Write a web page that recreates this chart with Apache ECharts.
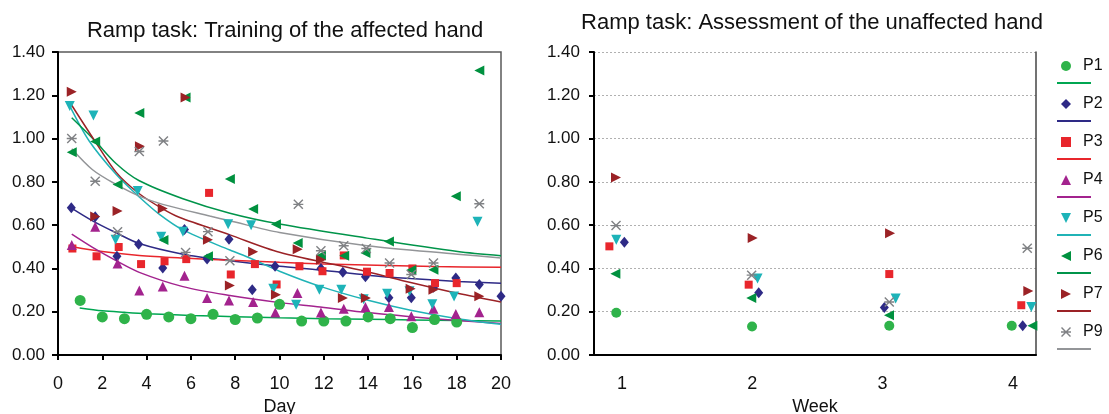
<!DOCTYPE html>
<html><head><meta charset="utf-8">
<script src="https://cdn.jsdelivr.net/npm/echarts@6/dist/echarts.min.js"></script>
<style>html,body{margin:0;padding:0;background:#fff}#c{width:1109px;height:414px}</style>
</head><body><div id="c"></div>
<script>
// ---------- data ----------
const names = ['P1','P2','P3','P4','P5','P6','P7','P9'];
const weekTicks = [1,2,3,4];

// Training (left chart): [day, value]
const trainP1 = [[1,0.252],[2,0.176],[3,0.168],[4,0.188],[5,0.176],[6,0.168],[7,0.188],[8,0.164],[9,0.171],[10,0.234],[11,0.157],[12,0.157],[13,0.157],[14,0.176],[15,0.168],[16,0.127],[17,0.164],[18,0.152]];
const trainP2 = [[0.6,0.68],[1.68,0.639],[2.66,0.456],[3.64,0.512],[4.73,0.402],[5.71,0.58],[6.73,0.443],[7.72,0.535],[8.77,0.301],[9.8,0.41],[11.87,0.40],[12.86,0.382],[13.88,0.362],[14.94,0.265],[15.95,0.265],[16.95,0.313],[17.96,0.356],[19.02,0.326],[20,0.272]];
const trainP3 = [[0.65,0.492],[1.74,0.456],[2.74,0.499],[3.75,0.42],[4.81,0.433],[5.79,0.443],[6.82,0.749],[7.8,0.372],[8.89,0.42],[9.87,0.326],[10.9,0.41],[11.94,0.387],[12.9,0.46],[13.95,0.385],[14.97,0.379],[16.0,0.40],[17.02,0.332],[18.0,0.332]];
const trainP4 = [[0.62,0.508],[1.68,0.592],[2.69,0.423],[3.67,0.298],[4.73,0.317],[5.71,0.366],[6.73,0.263],[7.72,0.252],[8.81,0.245],[9.81,0.196],[10.81,0.286],[11.87,0.196],[12.9,0.214],[13.88,0.222],[14.94,0.222],[15.95,0.179],[16.95,0.214],[17.96,0.19],[19.02,0.197],[20.03,0.153]];
const trainP5 = [[0.53,1.151],[1.6,1.107],[2.6,0.532],[3.6,0.758],[4.66,0.546],[5.64,0.569],[7.68,0.604],[8.72,0.60],[9.72,0.306],[10.75,0.232],[11.8,0.301],[12.79,0.301],[13.8,0.258],[14.86,0.283],[15.87,0.295],[16.9,0.234],[17.88,0.27],[18.94,0.616]];
const trainP6 = [[0.62,0.937],[1.68,0.986],[2.69,0.788],[3.67,1.118],[4.76,0.531],[5.76,1.19],[6.77,0.456],[7.76,0.813],[8.81,0.675],[9.84,0.604],[10.82,0.518],[11.87,0.46],[12.92,0.459],[13.88,0.471],[14.94,0.524],[15.95,0.393],[16.95,0.394],[17.96,0.734],[19.02,1.315],[20.03,0.344]];
const trainP7 = [[0.62,1.216],[1.68,0.64],[2.69,0.665],[3.7,0.965],[4.73,0.677],[5.76,1.19],[6.77,0.532],[7.76,0.321],[8.81,0.477],[9.84,0.278],[10.82,0.489],[11.87,0.44],[12.86,0.263],[13.9,0.263],[15.92,0.306],[16.95,0.301],[19.02,0.271],[20.03,0.394]];
const trainP9 = [[0.62,1.0],[1.68,0.803],[2.69,0.57],[3.67,0.94],[4.76,0.989],[5.76,0.474],[6.77,0.57],[7.76,0.436],[10.85,0.696],[11.87,0.482],[12.9,0.505],[13.92,0.492],[14.97,0.425],[15.95,0.372],[16.95,0.425],[19.02,0.699]];

// Trend lines: [day, value]
const trendP1 = [[0.98,0.217],[2,0.204],[3,0.197],[4,0.191],[6,0.183],[8,0.177],[10,0.172],[12,0.168],[14,0.165],[16,0.162],[18,0.159],[20,0.157]];
const trendP2 = [[0.59,0.68],[1.56,0.62],[2.6,0.566],[3.67,0.515],[5.64,0.466],[7.76,0.436],[10,0.41],[11.84,0.393],[13.95,0.369],[15.92,0.353],[18.04,0.34],[20,0.332]];
const trendP3 = [[0.65,0.5],[2,0.478],[3.67,0.46],[5.64,0.448],[7.76,0.438],[10,0.428],[12,0.421],[14.86,0.414],[17,0.409],[20,0.405]];
const trendP4 = [[0.62,0.558],[1.56,0.497],[2.62,0.436],[3.67,0.382],[5.64,0.316],[7.76,0.275],[10,0.242],[11.84,0.222],[13.95,0.196],[15.92,0.177],[18.04,0.159],[20,0.146]];
const trendP5 = [[0.53,1.151],[1.4,0.99],[2.62,0.835],[3.67,0.73],[4.58,0.65],[5.64,0.578],[7.76,0.485],[8.66,0.448],[10,0.387],[11.84,0.317],[13.95,0.254],[15.92,0.207],[18.04,0.168],[20,0.142]];
const trendP6 = [[0.62,1.096],[1.63,0.994],[2.62,0.885],[3.67,0.805],[5.64,0.722],[7.76,0.655],[10,0.605],[13.95,0.54],[18.04,0.478],[20,0.459]];
const trendP7 = [[0.62,1.154],[1.63,0.994],[2.62,0.845],[3.67,0.745],[4.73,0.675],[5.5,0.635],[7.76,0.555],[10,0.475],[13.95,0.385],[15.92,0.335],[18.04,0.285],[20,0.245]];
const trendP9 = [[0.62,0.953],[1.56,0.856],[2.62,0.788],[3.67,0.734],[4.73,0.696],[6.85,0.642],[7.76,0.62],[10,0.566],[13.95,0.505],[18.04,0.466],[20,0.448]];

// Assessment (right chart): [week position, value]
const assessP1 = [[0.956,0.195],[1.998,0.132],[3.051,0.135],[3.991,0.135]];
const assessP2 = [[1.018,0.521],[2.049,0.288],[3.013,0.22],[4.075,0.135]];
const assessP3 = [[0.903,0.502],[1.972,0.325],[3.051,0.374],[4.064,0.23]];
const assessP4 = [];
const assessP5 = [[0.956,0.533],[2.04,0.353],[3.10,0.261],[4.141,0.222]];
const assessP6 = [[0.949,0.375],[1.992,0.263],[3.049,0.184],[4.149,0.135]];
const assessP7 = [[0.954,0.82],[2.003,0.541],[3.057,0.562],[4.118,0.296]];
const assessP9 = [[0.954,0.598],[1.995,0.369],[3.051,0.245],[4.11,0.493]];

// ---------- styles ----------
const FONT = '"Liberation Sans", Arial, sans-serif';
const STAR = 'path://M0,4.3L10,4.3L10,5.7L0,5.7Z M1,0L10,9L9,10L0,1Z M9,0L10,1L1,10L0,9Z';
const TRI_UP = 'path://M5,0L10,10L0,10Z';
const TRI_DOWN = 'path://M0,0L10,0L5,10Z';
const TRI_LEFT = 'path://M10,0L10,10L0,5Z';
const TRI_RIGHT = 'path://M0,0L10,5L0,10Z';
const styles = {
  P1:{marker:'#2fb34a', line:'#00a651', symbol:'circle', size:11},
  P2:{marker:'#2e2a86', line:'#2e2a86', symbol:'diamond', size:[9,11]},
  P3:{marker:'#e8262c', line:'#e8262c', symbol:'rect', size:8},
  P4:{marker:'#a3238e', line:'#a3238e', symbol:TRI_UP, size:10},
  P5:{marker:'#1db3b8', line:'#20b3b6', symbol:TRI_DOWN, size:10},
  P6:{marker:'#00913f', line:'#00944a', symbol:TRI_LEFT, size:10},
  P7:{marker:'#9b2226', line:'#9b2226', symbol:TRI_RIGHT, size:10},
  P9:{marker:'#808285', line:'#939598', symbol:STAR, size:10}
};
const train = {P1:trainP1,P2:trainP2,P3:trainP3,P4:trainP4,P5:trainP5,P6:trainP6,P7:trainP7,P9:trainP9};
const trend = {P1:trendP1,P2:trendP2,P3:trendP3,P4:trendP4,P5:trendP5,P6:trendP6,P7:trendP7,P9:trendP9};
const assess = {P1:assessP1,P2:assessP2,P3:assessP3,P4:assessP4,P5:assessP5,P6:assessP6,P7:assessP7,P9:assessP9};

const series = [];
names.forEach(n => {
  const s = styles[n];
  series.push({
    name: n + ' trend', type:'line', xAxisIndex:0, yAxisIndex:0, data: trend[n],
    smooth:0.3, symbol:'none', z:2, silent:true,
    lineStyle:{color:s.line, width:1.5}, itemStyle:{color:s.line}
  });
});
names.forEach(n => {
  const s = styles[n];
  series.push({
    name: n, type:'scatter', xAxisIndex:0, yAxisIndex:0, data: train[n],
    symbol:s.symbol, symbolSize:s.size, z:3,
    itemStyle:{color:s.marker, opacity:1}
  });
  series.push({
    name: n, type:'scatter', xAxisIndex:1, yAxisIndex:1, data: assess[n],
    symbol:s.symbol, symbolSize: n==='P1' ? 10 : s.size, z:3,
    itemStyle:{color:s.marker, opacity:1}
  });
});

const axisLabelY = {formatter: v => v.toFixed(2), fontSize:17, color:'#111', fontFamily:FONT};
const option = {
  animation:false,
  backgroundColor:'#fff',
  textStyle:{fontFamily:FONT},
  title:[
    {text:'Ramp task: Training of the affected hand', left:280, top:15, textAlign:'center',
     textStyle:{fontSize:22, fontWeight:'normal', color:'#111', fontFamily:FONT}},
    {text:'Ramp task: Assessment of the unaffected hand', left:807, top:7, textAlign:'center',
     textStyle:{fontSize:22, fontWeight:'normal', color:'#111', fontFamily:FONT}}
  ],
  grid:[
    {left:58, top:52, width:443, height:303, outerBoundsMode:'none', containLabel:false,
     show:true, borderColor:'#5a5a5a', borderWidth:1.5, backgroundColor:'rgba(0,0,0,0)'},
    {left:594, top:52, width:442, height:303, outerBoundsMode:'none', containLabel:false}
  ],
  xAxis:[
    {gridIndex:0, type:'value', min:0, max:20, interval:2,
     axisLine:{onZero:false, lineStyle:{color:'#000', width:2}},
     axisTick:{show:true, length:5, lineStyle:{color:'#000', width:2}},
     axisLabel:{fontSize:18, color:'#111', margin:20, fontFamily:FONT},
     splitLine:{show:false},
     name:'Day', nameLocation:'middle', nameGap:42, nameTextStyle:{fontSize:18, color:'#111', fontFamily:FONT}},
    {gridIndex:1, type:'value', min:0.785, max:4.177,
     axisLine:{onZero:false, lineStyle:{color:'#000', width:2}},
     axisTick:{show:false},
     axisLabel:{fontSize:18, color:'#111', margin:20, fontFamily:FONT, customValues:weekTicks},
     splitLine:{show:false},
     name:'Week', nameLocation:'middle', nameGap:42, nameTextStyle:{fontSize:18, color:'#111', fontFamily:FONT}}
  ],
  yAxis:[
    {gridIndex:0, type:'value', min:0, max:1.4, interval:0.2,
     axisLine:{show:true, lineStyle:{color:'#000', width:2}},
     axisTick:{show:true, length:6, lineStyle:{color:'#000', width:2}},
     axisLabel:Object.assign({margin:13}, axisLabelY), splitLine:{show:false}},
    {gridIndex:1, type:'value', min:0, max:1.4, interval:0.2,
     axisLine:{show:true, lineStyle:{color:'#000', width:2}},
     axisTick:{show:true, length:5, lineStyle:{color:'#000', width:2}},
     axisLabel:Object.assign({margin:14}, axisLabelY),
     splitLine:{show:true, lineStyle:{color:'#b0b0b0', type:[2,2], width:1}}},
    {gridIndex:1, type:'value', min:0, max:1.4, position:'right',
     axisLine:{show:true, lineStyle:{color:'#444', width:1.5}},
     axisTick:{show:false}, axisLabel:{show:false}, splitLine:{show:false}}
  ],
  legend:[
    {orient:'vertical', left:1056, top:51, itemWidth:10, itemHeight:10, itemGap:18,
     data:names, selectedMode:false,
     textStyle:{fontSize:16, color:'#111', lineHeight:20, padding:[0,0,0,7], fontFamily:FONT}},
    {orient:'vertical', left:1052, top:68, itemWidth:34, itemHeight:2, itemGap:18, icon:'rect',
     data:names.map(n => n + ' trend'), selectedMode:false, formatter:() => ' ',
     textStyle:{fontSize:16, lineHeight:20}}
  ],
  series: series
};
const chart = echarts.init(document.getElementById('c'), null, {renderer:'canvas'});
chart.setOption(option);
</script></body></html>
